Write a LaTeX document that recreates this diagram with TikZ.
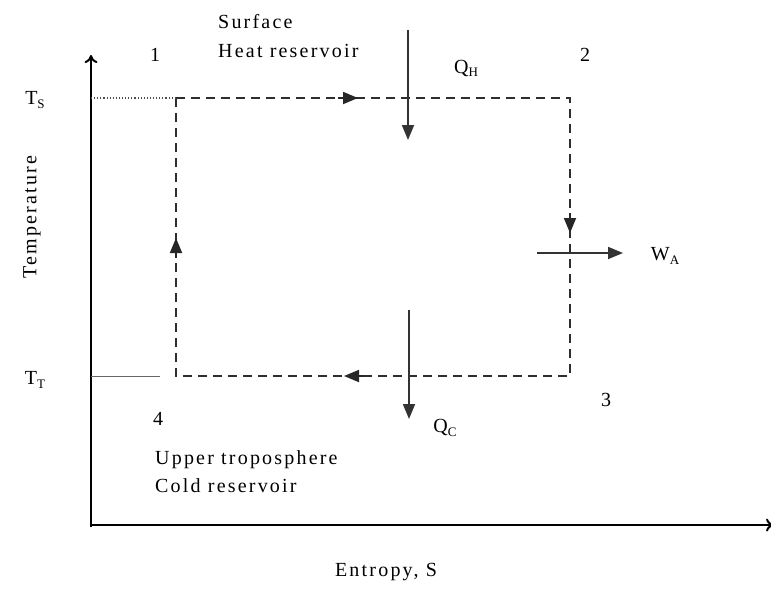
\documentclass[tikz,border=0pt]{standalone}
\usepackage{fontspec}
\setmainfont{Liberation Serif}[LetterSpace=11]
\usetikzlibrary{arrows.meta}
\newcommand\lowsub[1]{\raisebox{-0.35ex}{\fontsize{13}{13}\selectfont #1}}
\begin{document}
\begin{tikzpicture}[x=1pt,y=-1pt,
  lbl/.style={inner sep=0pt,font=\fontsize{20}{22}\selectfont,text=black},
  cycle/.style={draw=black!82,line width=2.2pt,dash pattern=on 9pt off 6pt},
  flow/.style={draw=black!80,line width=1.8pt,-{Triangle[length=15pt,width=12pt]}},
  midtip/.style={draw=black!85,line width=1.8pt,-{Triangle[length=15pt,width=12pt]}},
  axis/.style={draw=black,line width=2pt}]
\useasboundingbox (0,0) rectangle (771,590);
% axes
\coordinate (O) at (91,525);
\coordinate (Ytop) at (91,55);
\coordinate (Xend) at (774,525);
\draw[axis,-{To[length=8pt,width=13pt]}] (91,527) -- (Ytop);
\draw[axis,-{To[length=8pt,width=13pt]}] (O) -- (Xend);
% cycle corners
\coordinate (c1) at (176,98);
\coordinate (c2) at (570,98);
\coordinate (c3) at (570,376);
\coordinate (c4) at (176,376);
\draw[cycle] (c1) -- (c2) -- (c3) -- (c4) -- cycle;
% arrowheads on cycle
\coordinate (a1s) at (338,98); \coordinate (a1e) at (358,98);
\coordinate (a2s) at (570,213); \coordinate (a2e) at (570,233);
\coordinate (a3s) at (364,376); \coordinate (a3e) at (344,376);
\coordinate (a4s) at (176,258); \coordinate (a4e) at (176,238);
\draw[midtip] (a1s) -- (a1e);
\draw[midtip] (a2s) -- (a2e);
\draw[midtip] (a3s) -- (a3e);
\draw[midtip] (a4s) -- (a4e);
% reference lines
\coordinate (ts) at (91,98);
\coordinate (tt) at (91,376);
\coordinate (ttend) at (160,376);
\draw[black!70,line width=1.1pt,dotted] (ts) -- (c1);
\draw[black!60,line width=1pt] (tt) -- (ttend);
% heat flows
\coordinate (qhs) at (408,30); \coordinate (qhe) at (408,140);
\coordinate (qcs) at (409,310); \coordinate (qce) at (409,419);
\coordinate (was) at (537,253); \coordinate (wae) at (623,253);
\draw[flow] (qhs) -- (qhe);
\draw[flow] (qcs) -- (qce);
\draw[flow] (was) -- (wae);
% labels
\node[lbl] (TS) at (35,100) {T\lowsub{S}};
\node[lbl] (TT) at (35,380) {T\lowsub{T}};
\node[lbl,rotate=90] (temp) at (32,217) {Temperature};
\node[lbl] (xlab) at (386,572) {Entropy, S};
\node[lbl] (n1) at (155,55) {1};
\node[lbl] (n2) at (585,55) {2};
\node[lbl] (n3) at (606,400) {3};
\node[lbl] (n4) at (158,419) {4};
\node[lbl] (QH) at (466,68) {Q\lowsub{H}};
\node[lbl] (QC) at (445,428) {Q\lowsub{C}};
\node[lbl] (WA) at (665,256) {W\lowsub{A}};
\node[lbl,anchor=west] (surf) at (218,22) {Surface};
\node[lbl,anchor=west] (hres) at (218,51) {Heat reservoir};
\node[lbl,anchor=west] (upper) at (155,460) {Upper troposphere};
\node[lbl,anchor=west] (cold) at (155,486) {Cold reservoir};
\end{tikzpicture}
\end{document}
